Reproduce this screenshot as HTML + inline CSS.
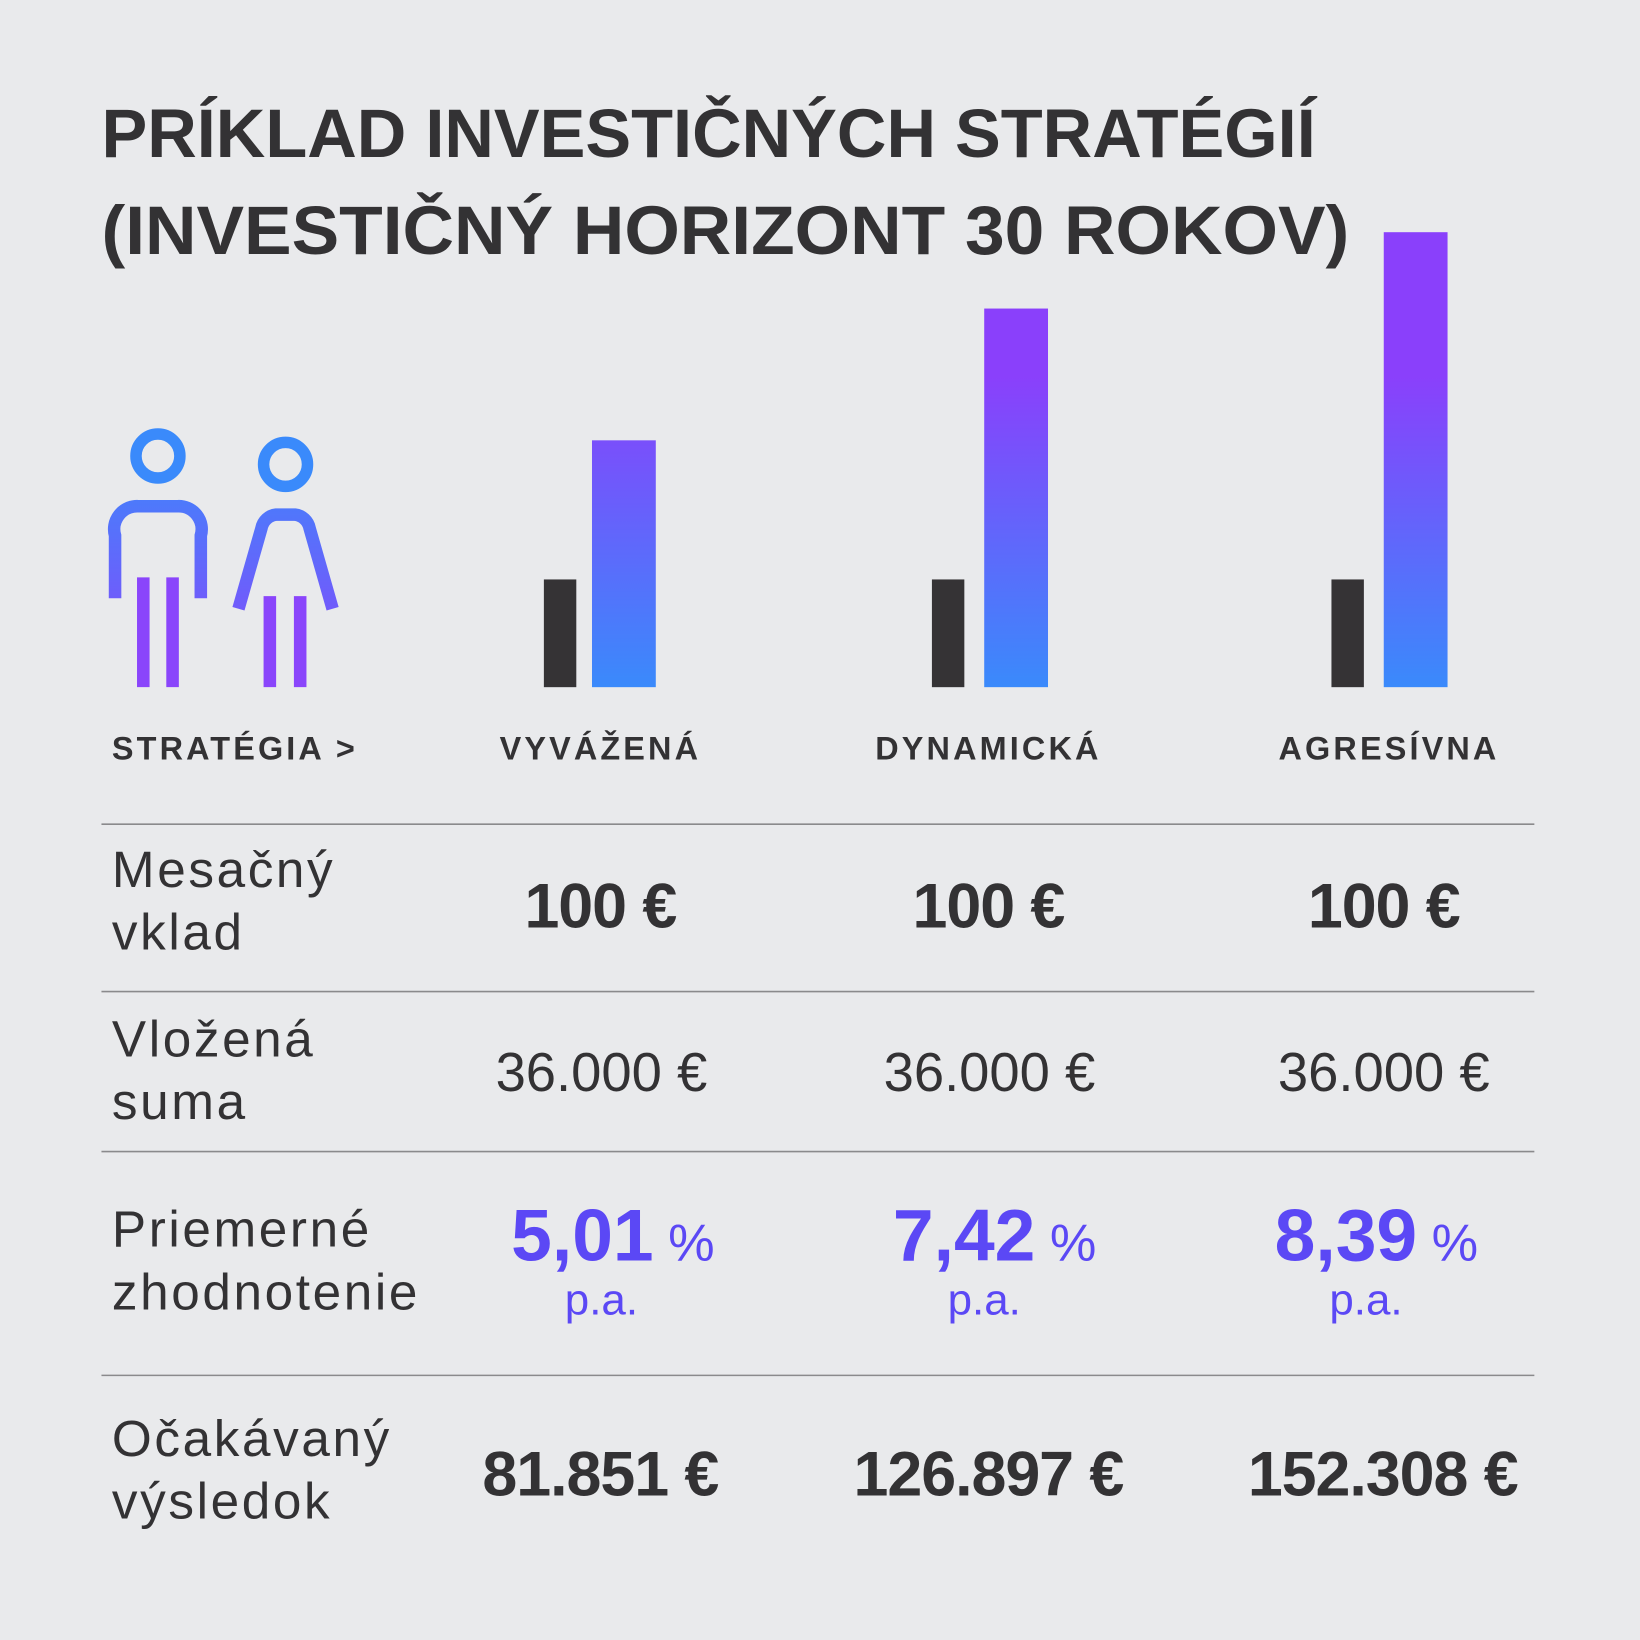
<!DOCTYPE html>
<html><head><meta charset="utf-8"><style>
html,body{margin:0;padding:0;background:#e9eaec;}
svg{display:block;}
text{font-family:"Liberation Sans",sans-serif;fill:#333234;}
</style></head><body>
<svg width="1640" height="1640" viewBox="0 0 1568 1568" xmlns="http://www.w3.org/2000/svg">
<defs>
<linearGradient id="g" gradientUnits="userSpaceOnUse" x1="0" y1="360" x2="0" y2="657">
<stop offset="0" stop-color="#8a40fb"/><stop offset="1" stop-color="#3a8afb"/></linearGradient>
<linearGradient id="p" gradientUnits="userSpaceOnUse" x1="0" y1="470" x2="0" y2="657">
<stop offset="0" stop-color="#4a7cfb"/><stop offset="1" stop-color="#8a45fb"/></linearGradient>
</defs>
<rect width="1568" height="1568" fill="#e9eaec"/>
<text x="97" y="150" font-size="66" font-weight="bold" textLength="1161" lengthAdjust="spacingAndGlyphs">PRÍKLAD INVESTIČNÝCH STRATÉGIÍ</text>
<text x="97" y="243" font-size="66" font-weight="bold" textLength="1193" lengthAdjust="spacingAndGlyphs">(INVESTIČNÝ HORIZONT 30 ROKOV)</text>

<circle cx="151" cy="436" r="21" fill="none" stroke="#3a8afb" stroke-width="11"/>
<path d="M110 572 V512 A22 22 0 0 1 132 484 H170 A22 22 0 0 1 192 512 V572" fill="none" stroke="url(#p)" stroke-width="12"/>
<line x1="137" y1="552" x2="137" y2="657" stroke="#8a45fb" stroke-width="12"/>
<line x1="165" y1="552" x2="165" y2="657" stroke="#8a45fb" stroke-width="12"/>
<circle cx="273" cy="444" r="21" fill="none" stroke="#3a8afb" stroke-width="11"/>
<path d="M228 582 L250 505 A16 16 0 0 1 264 492 H282 A16 16 0 0 1 296 505 L318 582" fill="none" stroke="url(#p)" stroke-width="12"/>
<line x1="258" y1="570" x2="258" y2="657" stroke="#8a45fb" stroke-width="12"/>
<line x1="287" y1="570" x2="287" y2="657" stroke="#8a45fb" stroke-width="12"/>

<rect x="520" y="554" width="31" height="103" fill="#353335"/>
<rect x="566" y="421" width="61" height="236" fill="url(#g)"/>
<rect x="891" y="554" width="31" height="103" fill="#353335"/>
<rect x="941" y="295" width="61" height="362" fill="url(#g)"/>
<rect x="1273" y="554" width="31" height="103" fill="#353335"/>
<rect x="1323" y="222" width="61" height="435" fill="url(#g)"/>

<g font-size="31" font-weight="bold" letter-spacing="3">
<text x="107" y="726">STRATÉGIA &gt;</text>
<text x="574" y="726" text-anchor="middle">VYVÁŽENÁ</text>
<text x="945" y="726" text-anchor="middle">DYNAMICKÁ</text>
<text x="1328" y="726" text-anchor="middle">AGRESÍVNA</text>
</g>
<g stroke="#8a8a8c" stroke-width="1.5">
<line x1="97" y1="788" x2="1467" y2="788"/><line x1="97" y1="948" x2="1467" y2="948"/>
<line x1="97" y1="1101" x2="1467" y2="1101"/><line x1="97" y1="1315" x2="1467" y2="1315"/>
</g>
<g font-size="49" letter-spacing="2.5">
<text x="107" y="848">Mesačný</text><text x="107" y="908">vklad</text>
<text x="107" y="1010">Vložená</text><text x="107" y="1070">suma</text>
<text x="107" y="1192">Priemerné</text><text x="107" y="1252">zhodnotenie</text>
<text x="107" y="1392">Očakávaný</text><text x="107" y="1452">výsledok</text>
</g>
<g font-size="60" font-weight="bold" text-anchor="middle" letter-spacing="-1">
<text x="574" y="887">100 €</text><text x="945" y="887">100 €</text><text x="1323" y="887">100 €</text>
<text x="574" y="1430">81.851 €</text><text x="945" y="1430">126.897 €</text><text x="1322" y="1430">152.308 €</text>
</g>
<g font-size="52" text-anchor="middle">
<text x="575" y="1043">36.000 €</text><text x="946" y="1043">36.000 €</text><text x="1323" y="1043">36.000 €</text>
</g>
<g text-anchor="middle">
<text x="586" y="1205" font-size="70" font-weight="bold" style="fill:#5b48f5">5,01<tspan font-size="50" font-weight="normal"> %</tspan></text>
<text x="951" y="1205" font-size="70" font-weight="bold" style="fill:#5b48f5">7,42<tspan font-size="50" font-weight="normal"> %</tspan></text>
<text x="1316" y="1205" font-size="70" font-weight="bold" style="fill:#5b48f5">8,39<tspan font-size="50" font-weight="normal"> %</tspan></text>
<text x="575" y="1257" font-size="42" style="fill:#5b48f5">p.a.</text>
<text x="941" y="1257" font-size="42" style="fill:#5b48f5">p.a.</text>
<text x="1306" y="1257" font-size="42" style="fill:#5b48f5">p.a.</text>
</g>
</svg>
</body></html>
